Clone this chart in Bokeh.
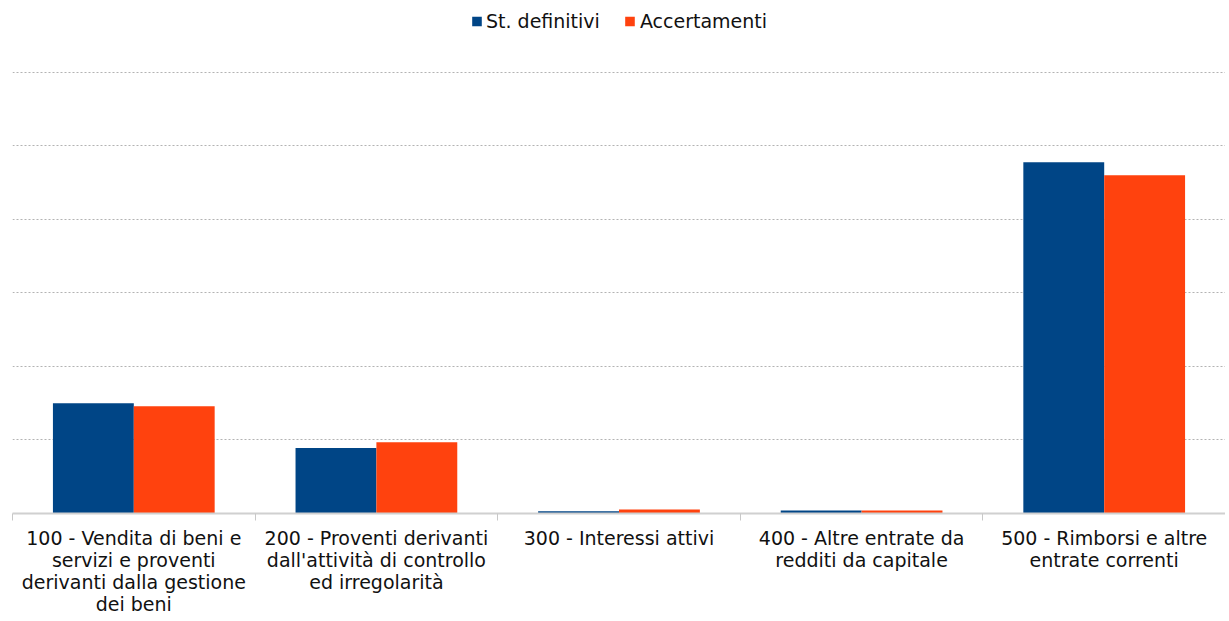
from bokeh.plotting import figure
from bokeh.models import FixedTicker, Legend, LegendItem, ColumnDataSource, Range1d
from bokeh.embed import file_html
from bokeh.resources import INLINE

categories = [
    "100 - Vendita di beni e\nservizi e proventi\nderivanti dalla gestione\ndei beni",
    "200 - Proventi derivanti\ndall'attività di controllo\ned irregolarità",
    "300 - Interessi attivi",
    "400 - Altre entrate da\nredditi da capitale",
    "500 - Rimborsi e altre\nentrate correnti",
]
st_definitivi = [1.50, 0.89, 0.03, 0.04, 4.78]
accertamenti = [1.46, 0.97, 0.055, 0.04, 4.60]
series_names = ["St. definitivi", "Accertamenti"]
colors = ["#004586", "#ff420e"]

FONT = "DejaVu Sans"
n = len(categories)
centers = [i + 0.5 for i in range(n)]
bw = 1.0 / 3.0

p = figure(frame_width=1213, frame_height=505, output_backend="svg", toolbar_location=None,
           x_range=Range1d(0, n), y_range=Range1d(0, 6.87),
           min_border_left=12, min_border_right=0, min_border_bottom=0, min_border_top=8)
p.outline_line_color = None
p.background_fill_color = "white"
p.border_fill_color = "white"

src1 = ColumnDataSource(dict(x=[c - bw / 2 for c in centers], top=st_definitivi))
src2 = ColumnDataSource(dict(x=[c + bw / 2 for c in centers], top=accertamenti))
r1 = p.vbar(x="x", top="top", width=bw, source=src1, fill_color=colors[0], line_color=None)
r2 = p.vbar(x="x", top="top", width=bw, source=src2, fill_color=colors[1], line_color=None)

# y axis hidden, gridlines only
p.yaxis.visible = False
p.yaxis.ticker = FixedTicker(ticks=[0, 1, 2, 3, 4, 5, 6])
p.ygrid.ticker = FixedTicker(ticks=[1, 2, 3, 4, 5, 6])
p.ygrid.grid_line_color = "#b3b3b3"
p.ygrid.grid_line_dash = "2 2"
p.ygrid.grid_line_width = 1
p.xgrid.visible = False

xa = p.xaxis[0]
xa.ticker = FixedTicker(ticks=centers, minor_ticks=list(range(n + 1)))
xa.major_label_overrides = {c: lab for c, lab in zip(centers, categories)}
xa.major_tick_out = 0
xa.major_tick_in = 0
xa.minor_tick_out = 7
xa.minor_tick_in = 0
xa.minor_tick_line_color = "#c8c8c8"
xa.axis_line_color = "#d0d0d0"
xa.axis_line_width = 2
xa.major_label_text_font = FONT
xa.major_label_text_font_size = "19px"
xa.major_label_text_color = "#111111"
xa.major_label_standoff = 6
xa.major_label_text_line_height = 1.0

legend = Legend(items=[LegendItem(label=series_names[0], renderers=[r1]),
                       LegendItem(label=series_names[1], renderers=[r2])],
                orientation="horizontal", location="top_center",
                label_text_font=FONT, label_text_font_size="19px",
                label_text_color="#111111",
                glyph_width=12, glyph_height=12, label_standoff=4, spacing=24,
                border_line_color=None, background_fill_alpha=0,
                margin=2, padding=3)
p.add_layout(legend, "center")

html = file_html(p, INLINE)
open("out.html", "w").write(html)
